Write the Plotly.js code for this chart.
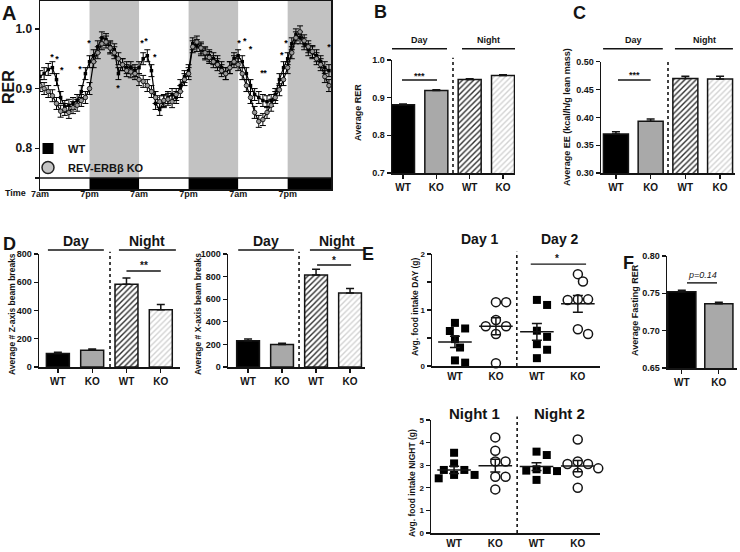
<!DOCTYPE html>
<html><head><meta charset="utf-8">
<script src="https://cdn.plot.ly/plotly-3.0.1.min.js"></script>
<style>html,body{margin:0;padding:0;background:#fff}#chart{width:740px;height:552px}</style>
</head><body><div id="chart"></div><script>
// ---------------- Panel A : RER time course ----------------
const hoursA = [0,1,2,3,4,5,6,7,8,9,10,11,12,13,14,15,16,17,18,19,20,21,22,23,24,25,26,27,28,29,30,31,32,33,34,35,36,37,38,39,40,41,42,43,44,45,46,47,48,49,50,51,52,53,54,55,56,57,58,59,60,61,62,63,64,65,66,67,68,69,70];
const rerWT = [0.920,0.925,0.932,0.935,0.915,0.885,0.870,0.872,0.875,0.880,0.895,0.925,0.945,0.955,0.970,0.985,0.982,0.970,0.965,0.925,0.940,0.935,0.935,0.930,0.935,0.950,0.955,0.930,0.875,0.865,0.878,0.885,0.890,0.885,0.905,0.920,0.930,0.975,0.972,0.965,0.958,0.955,0.950,0.945,0.935,0.925,0.935,0.950,0.955,0.945,0.925,0.905,0.890,0.885,0.880,0.878,0.880,0.890,0.915,0.935,0.950,0.975,0.990,0.985,0.975,0.965,0.960,0.955,0.945,0.935,0.930];
const rerKO = [0.905,0.900,0.895,0.888,0.875,0.862,0.865,0.860,0.868,0.872,0.880,0.885,0.900,0.945,0.960,0.975,0.978,0.968,0.960,0.950,0.940,0.930,0.928,0.925,0.915,0.912,0.905,0.895,0.885,0.878,0.880,0.882,0.878,0.890,0.895,0.915,0.925,0.970,0.978,0.968,0.960,0.952,0.945,0.940,0.930,0.925,0.935,0.945,0.940,0.925,0.905,0.885,0.860,0.845,0.848,0.860,0.872,0.885,0.898,0.915,0.935,0.960,0.985,0.995,0.980,0.970,0.962,0.950,0.940,0.920,0.905];
const RER_SEM = 0.01;
const starHours = [2.9,4.1,5.3,9.7,11.9,18.9,24.7,25.7,27.8,48.2,49.6,51.0,53.8,54.5,58.6,59.6,70.0];
const starRER   = [0.952,0.948,0.930,0.932,0.975,0.900,0.975,0.978,0.952,0.975,0.978,0.965,0.925,0.925,0.955,0.975,0.968];
const nightStart = [12,36,60];
const nightEnd   = [24,48,72];
const timeTickHours  = [0,12,24,36,48,60];
const timeTickLabels = ['7am','7pm','7am','7pm','7am','7pm'];
const STRIP_TOP = 0.75;

// ---------------- Bar panels ----------------
const groups = ['WT','KO','WT','KO'];
const rerAvg    = [0.881,0.919,0.948,0.959];
const rerAvgSem = [0.002,0.002,0.002,0.002];
const eeAvg     = [0.370,0.393,0.470,0.469];
const eeSem     = [0.004,0.004,0.004,0.005];
const zBeam     = [95,118,585,405];
const zBeamSem  = [10,10,45,38];
const xBeam     = [232,200,815,655];
const xBeamSem  = [15,10,50,40];
const fastGroups = ['WT','KO'];
const fastRER    = [0.752,0.736];
const fastSem    = [0.002,0.002];

// ---------------- Panel E : food intake ----------------
const dayWT1 = [0.77,0.625,0.67,0.48,0.33,0.06,0.10];
const dayKO1 = [1.14,1.14,0.82,0.71,0.71,0.57,0.05];
const dayWT2 = [1.18,1.09,0.63,0.52,0.39,0.29,0.14];
const dayKO2 = [1.64,1.51,1.19,1.19,1.18,0.655,0.57];
const dayMean = [0.43,0.71,0.61,1.11];
const daySem  = [0.10,0.15,0.15,0.15];
const nightWT1 = [3.55,3.08,2.79,2.79,2.57,2.57,2.42];
const nightKO1 = [4.23,3.64,3.16,3.16,2.49,2.49,1.93];
const nightWT2 = [3.60,3.45,2.82,2.79,2.76,2.74,2.35];
const nightKO2 = [4.14,3.16,3.05,3.05,2.86,2.67,2.00];
const nightMean = [2.79,2.98,2.94,2.96];
const nightSem  = [0.16,0.28,0.17,0.25];

// ================= layout helpers =================
const W = 740, H = 552;
const fx = p => p / W, fy = p => 1 - p / H;
const sfx = n => n === 1 ? '' : String(n);
const FONT = 'Liberation Sans, Arial, sans-serif';
const INK = '#141414';

const layout = {
  width: W, height: H, margin: {l:0, r:0, t:0, b:0},
  paper_bgcolor: '#fff', plot_bgcolor: 'rgba(0,0,0,0)',
  font: {family: FONT, size: 10, color: INK, weight: 'bold'},
  showlegend: true,
  legend: {x: fx(28), y: fy(134), xanchor: 'left', yanchor: 'top', bgcolor: 'rgba(0,0,0,0)',
           font: {size: 11, weight: 'bold'}, tracegroupgap: 0, itemwidth: 30},
  shapes: [], annotations: []
};
const data = [];

function axes(n, L, R, T, B, xr, yr, xo, yo) {
  const s = sfx(n);
  layout['xaxis' + s] = Object.assign({domain: [fx(L), fx(R)], range: xr, anchor: 'y' + s,
    showline: true, linewidth: 1.5, linecolor: INK, ticks: 'outside', ticklen: 4, tickwidth: 1.3,
    tickcolor: INK, showgrid: false, zeroline: false, fixedrange: true,
    tickfont: {size: 10, weight: 'bold'}}, xo || {});
  layout['yaxis' + s] = Object.assign({domain: [fy(B), fy(T)], range: yr, anchor: 'x' + s,
    showline: true, linewidth: 1.5, linecolor: INK, ticks: 'outside', ticklen: 4, tickwidth: 1.3,
    tickcolor: INK, showgrid: false, zeroline: false, fixedrange: true,
    tickfont: {size: 9, weight: 'bold'}}, yo || {});
}
function hline(n, x0, x1, yd) {
  layout.shapes.push({type: 'line', xref: 'x' + sfx(n), yref: 'y' + sfx(n) + ' domain',
    x0: x0, x1: x1, y0: yd, y1: yd, line: {color: INK, width: 1.4}});
}
function dotted(n, x, y0, y1) {
  layout.shapes.push({type: 'line', xref: 'x' + sfx(n), yref: 'y' + sfx(n) + ' domain',
    x0: x, x1: x, y0: y0, y1: y1, line: {color: INK, width: 1.6, dash: 'dot'}});
}
function txt(n, x, yd, text, size, extra) {
  layout.annotations.push(Object.assign({xref: 'x' + sfx(n), yref: 'y' + sfx(n) + ' domain',
    x: x, y: yd, text: text, showarrow: false, xanchor: 'center', yanchor: 'middle',
    font: {size: size, weight: 'bold'}}, extra || {}));
}
function paperTxt(px, py, text, size, angle) {
  layout.annotations.push({xref: 'paper', yref: 'paper', x: fx(px), y: fy(py), text: text,
    showarrow: false, xanchor: 'center', yanchor: 'middle', textangle: angle || 0,
    font: {size: size, weight: 'bold'}});
}

// ================= Panel A =================
axes(1, 40, 331, 1, 189, [0, 70.5], [0.7317, 1.0467],
  {tickvals: timeTickHours, ticktext: timeTickLabels, ticks: '', mirror: true, ticklabelstandoff: -4,
   tickfont: {size: 9, weight: 'bold'}},
  {tickvals: [STRIP_TOP, 0.8, 0.9, 1.0], ticktext: ['', '0.8', '0.9', '1.0'], mirror: true,
   tickfont: {size: 12, weight: 'bold'}});
for (let i = 0; i < nightStart.length; i++) {
  layout.shapes.push({type: 'rect', xref: 'x', yref: 'y', x0: nightStart[i], x1: nightEnd[i],
    y0: STRIP_TOP, y1: 1.0467, fillcolor: '#c2c2c2', line: {width: 0}, layer: 'below'});
  layout.shapes.push({type: 'rect', xref: 'x', yref: 'y', x0: nightStart[i], x1: nightEnd[i],
    y0: 0.7317, y1: STRIP_TOP, fillcolor: '#000', line: {width: 0}, layer: 'above'});
}
layout.shapes.push({type: 'line', xref: 'x domain', yref: 'y', x0: 0, x1: 1, y0: STRIP_TOP, y1: STRIP_TOP,
  line: {color: INK, width: 1.5}});

data.push({type: 'scatter', mode: 'lines+markers', x: hoursA, y: rerWT, name: 'WT', showlegend: false,
  line: {color: '#000', width: 1.2}, marker: {symbol: 'square', size: 3.5, color: '#000'},
  error_y: {type: 'constant', value: RER_SEM, color: '#000', thickness: 1, width: 3}, xaxis: 'x', yaxis: 'y'});
data.push({type: 'scatter', mode: 'lines+markers', x: hoursA, y: rerKO, name: 'REV-ERBβ KO', showlegend: false,
  line: {color: '#000', width: 1.2}, marker: {symbol: 'circle', size: 4.5, color: '#9a9a9a', line: {color: '#000', width: 0.8}},
  error_y: {type: 'constant', value: RER_SEM, color: '#000', thickness: 1, width: 3}, xaxis: 'x', yaxis: 'y'});
data.push({type: 'scatter', mode: 'text', x: starHours, y: starRER, text: starHours.map(() => '*'),
  textfont: {size: 9, color: '#000', weight: 'bold'}, showlegend: false, hoverinfo: 'skip', xaxis: 'x', yaxis: 'y'});
// legend entries
data.push({type: 'scatter', mode: 'markers', x: [null], y: [null], name: 'WT', xaxis: 'x', yaxis: 'y',
  marker: {symbol: 'square', size: 11, color: '#000'}});
data.push({type: 'scatter', mode: 'markers', x: [null], y: [null], name: 'REV-ERBβ KO', xaxis: 'x', yaxis: 'y',
  marker: {symbol: 'circle', size: 12, color: '#c4c4c4', line: {color: '#222', width: 1.5}}});
paperTxt(8, 87, 'RER', 16, -90);
paperTxt(15, 193, 'Time', 9);

// ================= bar helper =================
const barFill = ['#000', '#a9a9a9', '#2e2e2e', '#d2d2d2'];
const barShape = ['', '', '/', '/'];
const barFg = ['#000', '#a9a9a9', '#9a9a9a', '#8a8a8a'];
function bars(n, vals, sem, width, labels) {
  const s = sfx(n);
  const k = vals.length;
  data.push({type: 'bar', x: vals.map((v, i) => i), y: vals, width: width, showlegend: false,
    xaxis: 'x' + s, yaxis: 'y' + s,
    marker: {color: barFill.slice(0, k), line: {color: INK, width: 1.5},
      pattern: {shape: barShape.slice(0, k), bgcolor: barFill.slice(0, k), fgcolor: barFg.slice(0, k),
                size: 4, solidity: 0.35}},
    error_y: {type: 'data', array: sem, arrayminus: sem.map(() => 0), symmetric: false,
              color: INK, thickness: 1.5, width: 4}});
  layout['xaxis' + s].tickvals = vals.map((v, i) => i);
  layout['xaxis' + s].ticktext = labels;
}
const SIG = {yanchor: 'bottom'};

// ================= Panel B =================
axes(2, 392, 515, 60, 173, [-0.33, 3.36], [0.7, 1.0], {}, {tickvals: [0.7, 0.8, 0.9, 1.0], tickformat: '.1f'});
bars(2, rerAvg, rerAvgSem, 0.69, groups);
dotted(2, 1.5, 0, 1.02);
hline(2, -0.33, 1.32, 1.10); hline(2, 1.77, 3.36, 1.10);
txt(2, 0.5, 1.18, 'Day', 9); txt(2, 2.55, 1.18, 'Night', 9);
hline(2, -0.03, 1.02, 0.823); txt(2, 0.5, 0.80, '***', 9, SIG);
paperTxt(358, 113, 'Average RER', 9, -90);

// ================= Panel C =================
axes(3, 601, 735, 61.7, 173, [-0.43, 3.43], [0.30, 0.50], {}, {tickvals: [0.30, 0.35, 0.40, 0.45, 0.50], tickformat: '.2f'});
bars(3, eeAvg, eeSem, 0.72, groups);
dotted(3, 1.5, 0, 1.02);
hline(3, -0.37, 1.35, 1.117); hline(3, 1.7, 3.37, 1.117);
txt(3, 0.5, 1.195, 'Day', 9); txt(3, 2.55, 1.195, 'Night', 9);
hline(3, 0.06, 1.0, 0.836); txt(3, 0.53, 0.815, '***', 9, SIG);
paperTxt(567, 117, 'Average EE (kcal/h/g lean mass)', 9, -90);

// ================= Panel D (Z) =================
axes(4, 39, 180, 254, 367, [-0.55, 3.56], [0, 800], {}, {tickvals: [0, 200, 400, 600, 800]});
bars(4, zBeam, zBeamSem, 0.67, groups);
dotted(4, 1.52, 0, 1.02);
hline(4, -0.29, 1.34, 1.035); hline(4, 1.78, 3.44, 1.035);
txt(4, 0.52, 1.115, 'Day', 14); txt(4, 2.6, 1.115, 'Night', 14);
hline(4, 2.0, 3.0, 0.85); txt(4, 2.5, 0.83, '**', 10, SIG);
paperTxt(12, 314, 'Average # Z-axis beam breaks', 8.5, -90);

// ================= Panel D (X) =================
axes(5, 228, 365, 254, 367, [-0.59, 3.44], [0, 1000], {}, {tickvals: [0, 200, 400, 600, 800, 1000]});
bars(5, xBeam, xBeamSem, 0.67, groups);
dotted(5, 1.5, 0, 1.02);
hline(5, -0.29, 1.35, 1.035); hline(5, 1.82, 3.44, 1.035);
txt(5, 0.53, 1.115, 'Day', 14); txt(5, 2.62, 1.115, 'Night', 14);
hline(5, 2.03, 3.03, 0.903); txt(5, 2.53, 0.88, '*', 10, SIG);
paperTxt(198, 314, 'Average # X-axis beam breaks', 8.5, -90);

// ================= Panel E =================
function swarm(vals, pxPerY, d) {
  const placed = [], offs = new Array(vals.length);
  const order = vals.map((v, i) => i).sort((a, b) => vals[b] - vals[a]);
  for (const i of order) {
    const py = vals[i] * pxPerY;
    for (let k = 0; k < 30; k++) {
      const sgn = k === 0 ? 0 : (k % 2 ? 1 : -1) * Math.ceil(k / 2);
      const px = sgn * d * 0.6;
      if (placed.every(p => Math.hypot(p[0] - px, p[1] - py) >= d)) { placed.push([px, py]); offs[i] = px; break; }
    }
  }
  return offs;
}
function dots(n, groupsVals, mean, sem, pxPerY, pxPerX) {
  const s = sfx(n);
  groupsVals.forEach((vals, g) => {
    const ko = g % 2 === 1;
    const offs = swarm(vals, pxPerY, 8.5);
    data.push({type: 'scatter', mode: 'markers', x: vals.map((v, i) => g + offs[i] / pxPerX), y: vals,
      showlegend: false, xaxis: 'x' + s, yaxis: 'y' + s, cliponaxis: false,
      marker: ko ? {symbol: 'circle', size: 9, color: '#fff', line: {color: INK, width: 1.5}}
                 : {symbol: 'square', size: 8, color: '#000'}});
  });
  data.push({type: 'scatter', mode: 'markers', x: mean.map((v, i) => i), y: mean, showlegend: false,
    xaxis: 'x' + s, yaxis: 'y' + s,
    marker: {symbol: 'line-ew-open', size: 24, color: INK, line: {color: INK, width: 1.5}},
    error_y: {type: 'data', array: sem, color: INK, thickness: 1.5, width: 5}});
}
axes(6, 432, 600, 254, 366, [-0.56, 3.54], [0, 2], {ticks: ''},
  {tickvals: [0, 0.5, 1, 1.5, 2], ticktext: ['0', '', '1', '', '2'], tickfont: {size: 8, weight: 'bold'}});
layout.xaxis6.tickvals = [0, 1, 2, 3]; layout.xaxis6.ticktext = groups;
dots(6, [dayWT1, dayKO1, dayWT2, dayKO2], dayMean, daySem, 56, 41);
dotted(6, 1.51, 0, 1.02);
txt(6, 0.6, 1.135, 'Day 1', 14); txt(6, 2.56, 1.135, 'Day 2', 14);
hline(6, 1.85, 3.2, 0.91); txt(6, 2.5, 0.89, '*', 10, SIG);
paperTxt(415, 307, 'Avg. food intake DAY (g)', 8.5, -90);

axes(7, 431, 600, 420, 533, [-0.56, 3.54], [0, 5], {ticks: ''},
  {tickvals: [0, 1, 2, 3, 4, 5], tickfont: {size: 8, weight: 'bold'}});
layout.xaxis7.tickvals = [0, 1, 2, 3]; layout.xaxis7.ticktext = groups;
dots(7, [nightWT1, nightKO1, nightWT2, nightKO2], nightMean, nightSem, 22.6, 41);
dotted(7, 1.53, 0, 1.03);
txt(7, 0.49, 1.06, 'Night 1', 15); txt(7, 2.56, 1.06, 'Night 2', 15);
paperTxt(412, 483, 'Avg. food intake NIGHT (g)', 8.5, -90);

// ================= Panel F =================
axes(8, 667, 737, 256, 368, [-0.4, 1.49], [0.65, 0.80], {}, {tickvals: [0.65, 0.70, 0.75, 0.80], tickformat: '.2f'});
bars(8, fastRER, fastSem, 0.76, fastGroups);
hline(8, 0.14, 0.95, 0.76); txt(8, 0.55, 0.765, '<i>p=0.14</i>', 9, {yanchor: 'bottom', font: {size: 9, weight: 'normal'}});
paperTxt(635, 310, 'Average Fasting RER', 9, -90);

// ================= panel letters =================
paperTxt(9, 13, 'A', 20); paperTxt(380, 12, 'B', 18); paperTxt(579, 13, 'C', 18);
paperTxt(9, 244, 'D', 18); paperTxt(368, 254, 'E', 18); paperTxt(628, 263, 'F', 18);

Plotly.newPlot('chart', data, layout, {displayModeBar: false, staticPlot: true});
</script></body></html>
